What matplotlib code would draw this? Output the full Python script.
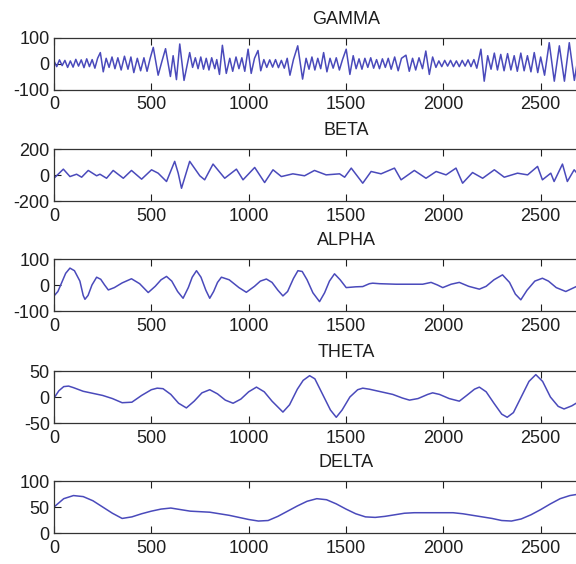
import matplotlib.pyplot as plt
import numpy as np

# pasma EEG (x w probkach, y w amplitudzie)
gamma_x = [0, 14, 28, 42, 56, 70, 84, 98, 112, 126, 140, 154, 168, 182, 196, 210, 224,
           238, 253, 268, 283, 298, 313, 328, 345, 362, 380, 395, 410, 428, 445, 462, 478, 494,
           510, 535, 555, 573, 598, 612, 629, 646, 668, 697, 712, 726, 740, 754, 768, 782, 796,
           810, 826, 836, 850, 865, 885, 903, 918, 935, 950, 965, 980, 997, 1013, 1030, 1048,
           1062, 1078, 1093, 1108, 1123, 1138, 1153, 1168, 1183, 1198, 1212, 1230, 1252, 1277,
           1295, 1310, 1325, 1340, 1355, 1370, 1385, 1402, 1418, 1434, 1450, 1466, 1482, 1501,
           1520, 1537, 1552, 1567, 1582, 1597, 1612, 1627, 1642, 1657, 1672, 1687, 1702, 1717,
           1732, 1750, 1768, 1785, 1808, 1825, 1842, 1858, 1875, 1893, 1910, 1928, 1945, 1962,
           1977, 1992, 2007, 2022, 2037, 2052, 2067, 2082, 2097, 2112, 2127, 2142, 2157, 2172,
           2193, 2210, 2228, 2245, 2262, 2278, 2295, 2312, 2330, 2347, 2364, 2380, 2398, 2415,
           2432, 2450, 2467, 2485, 2500, 2520, 2544, 2570, 2596, 2622, 2647, 2673, 2700]
gamma_y = [10, -12, 14, -8, 12, -15, 10, -14, 16, -10, 14, -16, 18, -12, 15, -18, 20,
           42, -32, 20, -15, 25, -20, 22, -25, 28, -22, 25, -35, 20, -28, 22, -30, 20,
           62, -45, 10, 57, -50, 30, -62, 75, -65, 42, -15, 22, -20, 25, -22, 20, -25,
           22, -20, 15, -42, 70, -38, 20, -30, 25, -20, 22, -30, 55, -38, 20, 50,
           -28, 15, -15, 14, -14, 15, -16, 12, -18, 20, -45, 15, 68, -60,
           20, -22, 25, -25, 20, -20, 42, -32, 20, -18, 22, -25, 15, 55,
           -42, 30, -20, 18, -22, 20, -15, 22, -18, 15, -20, 18, -15, 20,
           -22, 25, -28, 20, 32, -30, 20, -25, 22, -20, 48, -42, 25, -15,
           10, -12, 12, -10, 12, -12, 10, -12, 12, -10, 14, -12, 15, -18,
           55, -68, 30, -22, 40, -25, 35, -28, 38, -25, 30, -30, 40, -28,
           30, -32, 42, -35, 25, -45, 80, -68, 68, -68, 80, -65, 60]

beta_x = [0, 48, 82, 116, 142, 176, 219, 236, 270, 304, 356, 398, 450, 501, 535, 578, 620,
          638, 655, 697, 749, 774, 817, 877, 937, 971, 1031, 1082, 1125, 1168, 1227, 1287,
          1338, 1398, 1467, 1493, 1527, 1586, 1629, 1680, 1749, 1783, 1851, 1911, 1963, 2014,
          2065, 2099, 2150, 2202, 2262, 2313, 2381, 2433, 2484, 2509, 2552, 2569, 2612, 2637,
          2672, 2700]
beta_y = [-25, 45, -12, 6, -17, 35, -6, 6, -25, 35, -25, 35, -32, 40, 14, -50, 105,
          14, -102, 105, -6, -37, 84, -25, 45, -37, 58, -58, 40, -12, 9, -6,
          35, 1, 9, -17, 53, -63, 27, 9, 53, -37, 35, -25, 27, 1,
          53, -63, 19, -25, 40, -17, 14, 1, 66, -37, 14, -50, 84, -50,
          40, -10]

alpha_x = [0, 20, 40, 60, 82, 105, 133, 150, 159, 175, 195, 219, 240, 260, 279, 310, 350,
           398, 440, 484, 520, 550, 578, 605, 635, 663, 690, 710, 732, 755, 780, 800, 820,
           840, 860, 900, 950, 988, 1030, 1060, 1091, 1120, 1150, 1176, 1200, 1230, 1253,
           1275, 1300, 1330, 1364, 1390, 1415, 1441, 1470, 1501, 1550, 1586, 1620, 1637,
           1672, 1757, 1850, 1894, 1937, 1970, 1997, 2040, 2082, 2130, 2185, 2220, 2260,
           2304, 2340, 2370, 2398, 2430, 2470, 2509, 2540, 2580, 2629, 2660, 2700]
alpha_y = [-42, -25, 10, 45, 65, 55, 15, -40, -55, -40, 0, 30, 22, 0, -19, -10, 8,
           24, 5, -29, -5, 20, 33, 15, -25, -51, -10, 30, 55, 30, -20, -51, -25,
           10, 30, 20, -10, -28, -5, 15, 23, 10, -20, -42, -25, 25, 55,
           52, 20, -30, -64, -30, 15, 43, 20, -10, -7, -6, 5, 7,
           5, 3, 3, 3, 10, 0, -10, 3, 10, -5, -16, -5, 20,
           39, 10, -35, -57, -20, 15, 26, 15, -10, -25, -14, 0]

theta_x = [0, 25, 50, 75, 100, 150, 200, 250, 300, 350, 400, 450, 500, 530, 560, 600, 640,
           680, 720, 760, 800, 840, 880, 920, 960, 1000, 1040, 1080, 1120, 1176, 1210, 1250,
           1280, 1313, 1340, 1380, 1420, 1450, 1480, 1520, 1560, 1586, 1620, 1680, 1740,
           1790, 1826, 1870, 1920, 1945, 1980, 2030, 2082, 2120, 2160, 2185, 2220, 2260,
           2300, 2328, 2360, 2400, 2440, 2475, 2510, 2550, 2590, 2620, 2660, 2700]
theta_y = [-2, 12, 20, 21, 18, 11, 7, 3, -3, -11, -10, 3, 14, 17, 16, 5, -12,
           -21, -8, 8, 14, 6, -6, -12, -4, 10, 19, 10, -8, -29, -15, 15,
           32, 41, 35, 5, -25, -39, -25, 0, 14, 17, 15, 10, 5,
           -2, -6, -3, 5, 8, 5, -3, -8, 3, 15, 19, 10, -12,
           -33, -39, -30, 0, 30, 43, 30, 0, -18, -23, -17, -8]

delta_x = [0, 50, 100, 150, 200, 250, 300, 350, 400, 450, 500, 550, 600, 650, 700, 750,
           800, 850, 900, 950, 1000, 1050, 1100, 1150, 1200, 1250, 1300, 1350, 1400, 1450,
           1500, 1550, 1600, 1650, 1700, 1750, 1800, 1850, 1900, 1950, 2000, 2050, 2100,
           2150, 2200, 2250, 2300, 2350, 2400, 2450, 2500, 2550, 2600, 2650, 2700]
delta_y = [50, 66, 72, 70, 62, 50, 38, 28, 31, 37, 42, 46, 48, 45, 42, 41,
           40, 37, 34, 30, 26, 23, 24, 32, 42, 52, 61, 66, 64, 56,
           46, 37, 31, 30, 32, 35, 38, 39, 39, 39, 39, 39, 37,
           34, 31, 28, 24, 23, 27, 35, 45, 56, 66, 72, 75]

tytuly = ['GAMMA', 'BETA', 'ALPHA', 'THETA', 'DELTA']
limity_y = [(-100, 100), (-200, 200), (-100, 100), (-50, 50), (0, 100)]
ticki_y = [[-100, 0, 100], [-200, 0, 200], [-100, 0, 100], [-50, 0, 50], [0, 50, 100]]
ticki_x = [0, 500, 1000, 1500, 2000, 2500]
serie = [(gamma_x, gamma_y), (beta_x, beta_y), (alpha_x, alpha_y),
         (theta_x, theta_y), (delta_x, delta_y)]

plt.rcParams['font.family'] = ['Liberation Sans', 'DejaVu Sans']
plt.rcParams['axes.unicode_minus'] = False

fig = plt.figure(figsize=(5.76, 5.64), dpi=100)

# dolne krawedzie osi w pikselach (od gory obrazka), os siega poza prawa krawedz
dolne = [89.5, 201, 311, 423, 533]
wys = 52
lewa = 54 / 576
szer = 584 / 576

for i in range(5):
    ax = fig.add_axes([lewa, 1 - dolne[i] / 564, szer, wys / 564])
    ax.plot(serie[i][0], serie[i][1], color='#4a4abb', lw=1.1,
            solid_joinstyle='round')
    ax.set_xlim(0, 3000)
    ax.set_ylim(*limity_y[i])
    ax.set_xticks(ticki_x)
    ax.set_yticks(ticki_y[i])
    ax.tick_params(direction='in', length=5, width=0.8, top=True, right=True,
                   labelsize=13, colors='#1e1e1e', pad=5)
    ax.tick_params(axis='y', pad=3)
    for s in ax.spines.values():
        s.set_color('#333333')
        s.set_linewidth(0.9)
    ax.set_title(tytuly[i], fontsize=13, color='#1e1e1e', pad=10)

fig.savefig('out.png', dpi=100)
